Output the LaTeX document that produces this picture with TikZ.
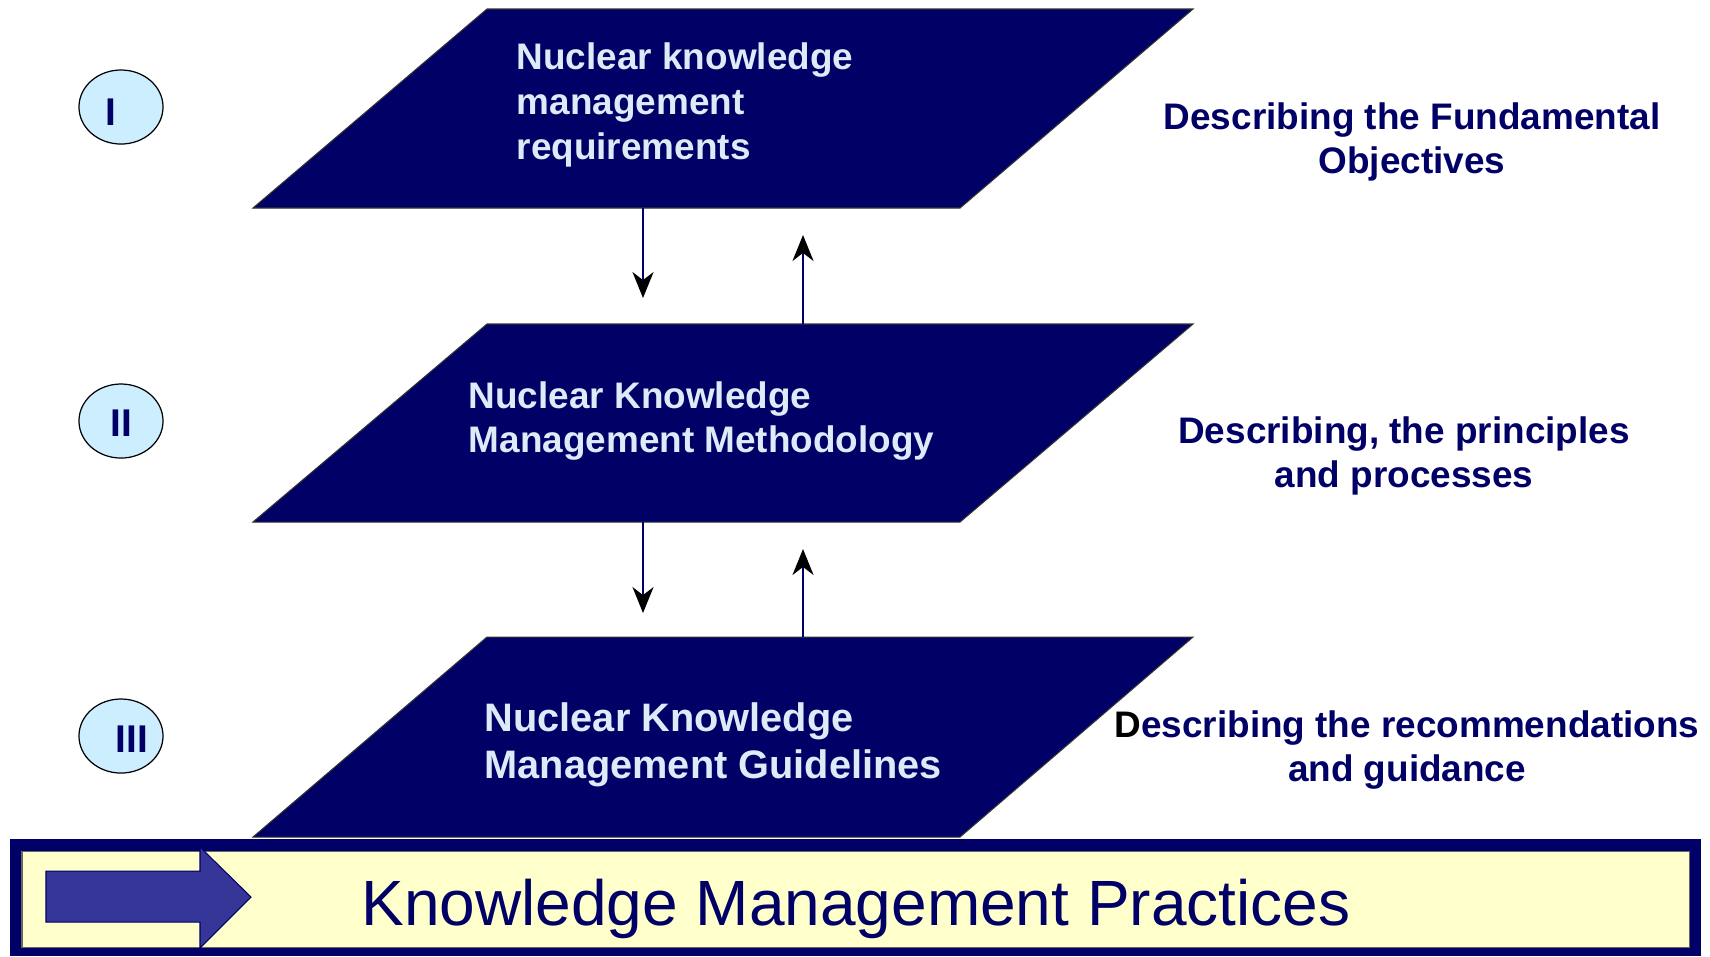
\documentclass[tikz,border=0pt]{standalone}
\usepackage{fontspec}
\setmainfont{Liberation Sans}
\usetikzlibrary{arrows.meta,shapes.geometric}
\definecolor{navy}{HTML}{000066}
\definecolor{paratext}{HTML}{DDEAF8}
\definecolor{bandyellow}{HTML}{FFFFCC}
\definecolor{arrowblue}{HTML}{363699}
\definecolor{ellfill}{HTML}{CCEEFF}
\begin{document}
\begin{tikzpicture}[x=0.01cm,y=-0.01cm,
  para/.style={fill=navy,draw=black!80,line width=0.3pt},
  paralbl/.style={text=paratext,font=\bfseries\fontsize{10.5}{12.75}\selectfont,align=left,anchor=west,inner sep=0pt},
  paralblbig/.style={text=paratext,font=\bfseries\fontsize{11.3}{13.3}\selectfont,align=left,anchor=west,inner sep=0pt},
  desc/.style={text=navy,font=\bfseries\fontsize{10.5}{12.75}\selectfont,align=center,inner sep=0pt},
  numell/.style={ellipse,draw=black,line width=0.35pt,fill=ellfill,minimum width=0.84cm,minimum height=0.74cm,inner sep=0pt},
  numlbl/.style={text=navy,font=\bfseries\fontsize{11}{13}\selectfont,inner sep=0pt},
  link/.style={draw=navy,line width=0.4pt,-{Stealth[length=7.4pt,width=6pt,inset=2.3pt,color=black]}}
]
\useasboundingbox (0,0) rectangle (1710,956);
\fill[white] (0,0) rectangle (1710,956);

% parallelograms
\draw[para] (487,9) -- (1193,9) -- (960,208) -- (253,208) -- cycle;
\draw[para] (487,324) -- (1193,324) -- (960,522) -- (253,522) -- cycle;
\draw[para] (487,637) -- (1193,637) -- (960,837) -- (253,837) -- cycle;

\node[paralbl] (t1) at (516,105) {Nuclear knowledge\\management\\requirements};
\node[paralbl] (t2) at (468,421) {Nuclear Knowledge\\Management Methodology};
\node[paralblbig] (t3) at (484,745) {Nuclear Knowledge\\Management Guidelines};

% connector coordinates
\coordinate (p1dn) at (643,208);
\coordinate (a1dn) at (643,298);
\coordinate (p2up) at (803,324);
\coordinate (a1up) at (803,235);
\coordinate (p2dn) at (643,522);
\coordinate (a2dn) at (643,613);
\coordinate (p3up) at (803,637);
\coordinate (a2up) at (803,549);
\draw[link] (p1dn) -- (a1dn);
\draw[link] (p2up) -- (a1up);
\draw[link] (p2dn) -- (a2dn);
\draw[link] (p3up) -- (a2up);

% numbered ellipses
\node[numell] (e1) at (121,107) {};
\node[numell] (e2) at (121,421) {};
\node[numell] (e3) at (121,736) {};
\node[numlbl] (n1) at (111,112) {I};
\node[numlbl] (n2) at (121,423) {II};
\node[numlbl] (n3) at (132,739) {III};

% descriptions
\node[desc] (d1) at (1412,142) {Describing the Fundamental\\Objectives};
\node[desc] (d2) at (1404,456) {Describing, the principles\\and processes};
\node[desc] (d3) at (1407,750) {{\color{black}D}escribing the recommendations\\and guidance};

% bottom band
\fill[navy] (10,839) rectangle (1701,956);
\draw[fill=bandyellow,draw=black!60,line width=0.3pt] (22,851) rectangle (1689,947);
\draw[fill=arrowblue,draw=navy,line width=0.3pt] (46,871) -- (200,871) -- (200,847) -- (251,897) -- (200,948) -- (200,922) -- (46,922) -- cycle;
\node[text=navy,font=\fontsize{18.2}{22}\selectfont,anchor=base,inner sep=0pt] (kmp) at (856,925) {Knowledge Management Practices};
\end{tikzpicture}
\end{document}
